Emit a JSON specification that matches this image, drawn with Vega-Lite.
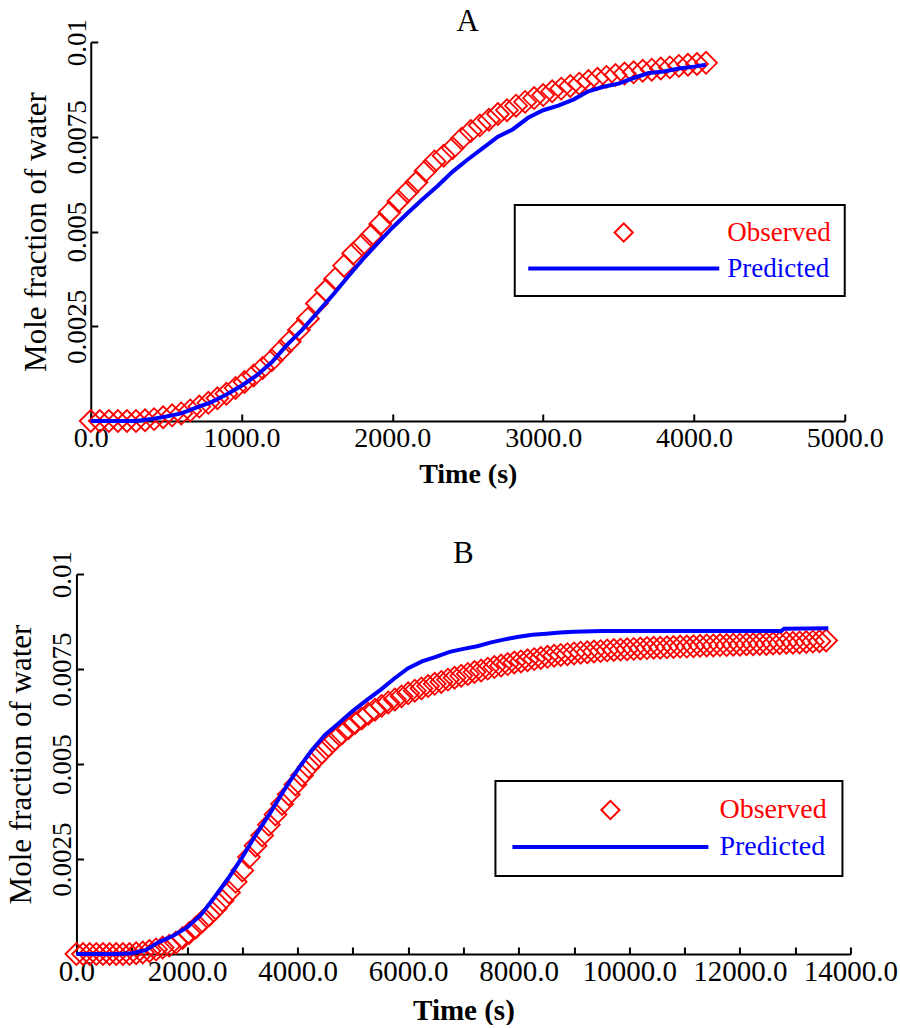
{
  "$schema": "https://vega.github.io/schema/vega-lite/v6.json",
  "padding": {"left": 5, "top": 6, "right": 0, "bottom": 0},
  "background": "white",
  "config": {
    "font": "Liberation Serif",
    "view": {"stroke": null},
    "axis": {"grid": false, "domainColor": "black", "tickColor": "black", "labelColor": "black", "titleColor": "black", "labelFont": "Liberation Serif", "titleFont": "Liberation Serif", "domainWidth": 2, "tickWidth": 2, "tickSize": -7, "labelFlush": false, "labelOverlap": false},
    "title": {"font": "Liberation Serif", "fontWeight": "normal", "color": "black", "anchor": "middle"}
  },
  "center": true,
  "spacing": 50,
  "resolve": {"scale": {"color": "independent"}, "legend": {"color": "independent"}},
  "datasets": {
    "a": [
      {"series":"Observed","time":0,"fraction":0},{"series":"Observed","time":60,"fraction":0},{"series":"Observed","time":120,"fraction":0},{"series":"Observed","time":180,"fraction":0},{"series":"Observed","time":240,"fraction":0},{"series":"Observed","time":300,"fraction":0},{"series":"Observed","time":360,"fraction":0.00002},{"series":"Observed","time":420,"fraction":0.00005},{"series":"Observed","time":480,"fraction":0.0001},{"series":"Observed","time":540,"fraction":0.00015},{"series":"Observed","time":600,"fraction":0.0002},{"series":"Observed","time":660,"fraction":0.00028},{"series":"Observed","time":720,"fraction":0.00038},{"series":"Observed","time":780,"fraction":0.00048},{"series":"Observed","time":840,"fraction":0.0006},{"series":"Observed","time":900,"fraction":0.00072},{"series":"Observed","time":960,"fraction":0.00087},{"series":"Observed","time":1020,"fraction":0.00103},{"series":"Observed","time":1080,"fraction":0.0012},{"series":"Observed","time":1140,"fraction":0.0014},{"series":"Observed","time":1200,"fraction":0.0016},{"series":"Observed","time":1260,"fraction":0.00185},{"series":"Observed","time":1320,"fraction":0.0021},{"series":"Observed","time":1380,"fraction":0.0024},{"series":"Observed","time":1440,"fraction":0.0027},{"series":"Observed","time":1500,"fraction":0.0031},{"series":"Observed","time":1560,"fraction":0.00345},{"series":"Observed","time":1620,"fraction":0.00375},{"series":"Observed","time":1680,"fraction":0.0041},{"series":"Observed","time":1740,"fraction":0.00442},{"series":"Observed","time":1800,"fraction":0.00465},{"series":"Observed","time":1860,"fraction":0.0049},{"series":"Observed","time":1920,"fraction":0.0052},{"series":"Observed","time":1980,"fraction":0.0055},{"series":"Observed","time":2040,"fraction":0.0058},{"series":"Observed","time":2100,"fraction":0.00605},{"series":"Observed","time":2160,"fraction":0.0063},{"series":"Observed","time":2220,"fraction":0.0066},{"series":"Observed","time":2280,"fraction":0.00685},{"series":"Observed","time":2340,"fraction":0.007},{"series":"Observed","time":2400,"fraction":0.0072},{"series":"Observed","time":2460,"fraction":0.00745},{"series":"Observed","time":2520,"fraction":0.00765},{"series":"Observed","time":2580,"fraction":0.0078},{"series":"Observed","time":2640,"fraction":0.00795},{"series":"Observed","time":2700,"fraction":0.0081},{"series":"Observed","time":2760,"fraction":0.0082},{"series":"Observed","time":2820,"fraction":0.00832},{"series":"Observed","time":2880,"fraction":0.00842},{"series":"Observed","time":2940,"fraction":0.00852},{"series":"Observed","time":3000,"fraction":0.0086},{"series":"Observed","time":3060,"fraction":0.0087},{"series":"Observed","time":3120,"fraction":0.00877},{"series":"Observed","time":3180,"fraction":0.00884},{"series":"Observed","time":3240,"fraction":0.0089},{"series":"Observed","time":3300,"fraction":0.00897},{"series":"Observed","time":3360,"fraction":0.00903},{"series":"Observed","time":3420,"fraction":0.00908},{"series":"Observed","time":3480,"fraction":0.00913},{"series":"Observed","time":3540,"fraction":0.00917},{"series":"Observed","time":3600,"fraction":0.0092},{"series":"Observed","time":3660,"fraction":0.00924},{"series":"Observed","time":3720,"fraction":0.00927},{"series":"Observed","time":3780,"fraction":0.0093},{"series":"Observed","time":3840,"fraction":0.00933},{"series":"Observed","time":3900,"fraction":0.00937},{"series":"Observed","time":3960,"fraction":0.0094},{"series":"Observed","time":4020,"fraction":0.00942},{"series":"Observed","time":4080,"fraction":0.00945},
      {"series":"Predicted","time":0,"fraction":0},{"series":"Predicted","time":100,"fraction":0},{"series":"Predicted","time":200,"fraction":0},{"series":"Predicted","time":300,"fraction":0},{"series":"Predicted","time":400,"fraction":0.00005},{"series":"Predicted","time":500,"fraction":0.00012},{"series":"Predicted","time":600,"fraction":0.0002},{"series":"Predicted","time":700,"fraction":0.00035},{"series":"Predicted","time":800,"fraction":0.0005},{"series":"Predicted","time":900,"fraction":0.0007},{"series":"Predicted","time":1000,"fraction":0.00093},{"series":"Predicted","time":1100,"fraction":0.0012},{"series":"Predicted","time":1200,"fraction":0.00155},{"series":"Predicted","time":1300,"fraction":0.002},{"series":"Predicted","time":1400,"fraction":0.0024},{"series":"Predicted","time":1500,"fraction":0.00285},{"series":"Predicted","time":1600,"fraction":0.0033},{"series":"Predicted","time":1700,"fraction":0.00378},{"series":"Predicted","time":1800,"fraction":0.00425},{"series":"Predicted","time":1900,"fraction":0.00468},{"series":"Predicted","time":2000,"fraction":0.0051},{"series":"Predicted","time":2100,"fraction":0.00548},{"series":"Predicted","time":2200,"fraction":0.00585},{"series":"Predicted","time":2300,"fraction":0.0062},{"series":"Predicted","time":2400,"fraction":0.00658},{"series":"Predicted","time":2500,"fraction":0.0069},{"series":"Predicted","time":2600,"fraction":0.0072},{"series":"Predicted","time":2700,"fraction":0.0075},{"series":"Predicted","time":2800,"fraction":0.0077},{"series":"Predicted","time":2900,"fraction":0.008},{"series":"Predicted","time":3000,"fraction":0.0082},{"series":"Predicted","time":3100,"fraction":0.00832},{"series":"Predicted","time":3200,"fraction":0.00848},{"series":"Predicted","time":3300,"fraction":0.0087},{"series":"Predicted","time":3400,"fraction":0.00882},{"series":"Predicted","time":3500,"fraction":0.0089},{"series":"Predicted","time":3600,"fraction":0.00905},{"series":"Predicted","time":3700,"fraction":0.00918},{"series":"Predicted","time":3800,"fraction":0.00922},{"series":"Predicted","time":3900,"fraction":0.0093},{"series":"Predicted","time":4000,"fraction":0.00935},{"series":"Predicted","time":4080,"fraction":0.0094}
    ],
    "b": [
      {"series":"Observed","time":0,"fraction":0},{"series":"Observed","time":120,"fraction":0},{"series":"Observed","time":240,"fraction":0},{"series":"Observed","time":360,"fraction":0},{"series":"Observed","time":480,"fraction":0},{"series":"Observed","time":600,"fraction":0},{"series":"Observed","time":720,"fraction":0},{"series":"Observed","time":840,"fraction":0},{"series":"Observed","time":960,"fraction":0},{"series":"Observed","time":1080,"fraction":0.00002},{"series":"Observed","time":1200,"fraction":0.00004},{"series":"Observed","time":1320,"fraction":0.00008},{"series":"Observed","time":1440,"fraction":0.00012},{"series":"Observed","time":1560,"fraction":0.00017},{"series":"Observed","time":1680,"fraction":0.00022},{"series":"Observed","time":1800,"fraction":0.0003},{"series":"Observed","time":1920,"fraction":0.00042},{"series":"Observed","time":2040,"fraction":0.00055},{"series":"Observed","time":2160,"fraction":0.0007},{"series":"Observed","time":2280,"fraction":0.00086},{"series":"Observed","time":2400,"fraction":0.00102},{"series":"Observed","time":2520,"fraction":0.0012},{"series":"Observed","time":2640,"fraction":0.0014},{"series":"Observed","time":2760,"fraction":0.00162},{"series":"Observed","time":2880,"fraction":0.0019},{"series":"Observed","time":3000,"fraction":0.0022},{"series":"Observed","time":3120,"fraction":0.00255},{"series":"Observed","time":3240,"fraction":0.00285},{"series":"Observed","time":3360,"fraction":0.00312},{"series":"Observed","time":3480,"fraction":0.0034},{"series":"Observed","time":3600,"fraction":0.00367},{"series":"Observed","time":3720,"fraction":0.00395},{"series":"Observed","time":3840,"fraction":0.0042},{"series":"Observed","time":3960,"fraction":0.00446},{"series":"Observed","time":4080,"fraction":0.0047},{"series":"Observed","time":4200,"fraction":0.00492},{"series":"Observed","time":4320,"fraction":0.00512},{"series":"Observed","time":4440,"fraction":0.0053},{"series":"Observed","time":4560,"fraction":0.00548},{"series":"Observed","time":4680,"fraction":0.00565},{"series":"Observed","time":4800,"fraction":0.0058},{"series":"Observed","time":4920,"fraction":0.00594},{"series":"Observed","time":5040,"fraction":0.00608},{"series":"Observed","time":5160,"fraction":0.0062},{"series":"Observed","time":5280,"fraction":0.00632},{"series":"Observed","time":5400,"fraction":0.00643},{"series":"Observed","time":5520,"fraction":0.00653},{"series":"Observed","time":5640,"fraction":0.00662},{"series":"Observed","time":5760,"fraction":0.0067},{"series":"Observed","time":5880,"fraction":0.00678},{"series":"Observed","time":6000,"fraction":0.00686},{"series":"Observed","time":6120,"fraction":0.00693},{"series":"Observed","time":6240,"fraction":0.00699},{"series":"Observed","time":6360,"fraction":0.00705},{"series":"Observed","time":6480,"fraction":0.00711},{"series":"Observed","time":6600,"fraction":0.00716},{"series":"Observed","time":6720,"fraction":0.00722},{"series":"Observed","time":6840,"fraction":0.00727},{"series":"Observed","time":6960,"fraction":0.00732},{"series":"Observed","time":7080,"fraction":0.00737},{"series":"Observed","time":7200,"fraction":0.00742},{"series":"Observed","time":7320,"fraction":0.00746},{"series":"Observed","time":7440,"fraction":0.00751},{"series":"Observed","time":7560,"fraction":0.00755},{"series":"Observed","time":7680,"fraction":0.00759},{"series":"Observed","time":7800,"fraction":0.00763},{"series":"Observed","time":7920,"fraction":0.00767},{"series":"Observed","time":8040,"fraction":0.0077},{"series":"Observed","time":8160,"fraction":0.00773},{"series":"Observed","time":8280,"fraction":0.00776},{"series":"Observed","time":8400,"fraction":0.00779},{"series":"Observed","time":8520,"fraction":0.00782},{"series":"Observed","time":8640,"fraction":0.00785},{"series":"Observed","time":8760,"fraction":0.00787},{"series":"Observed","time":8880,"fraction":0.00789},{"series":"Observed","time":9000,"fraction":0.00791},{"series":"Observed","time":9120,"fraction":0.00793},{"series":"Observed","time":9240,"fraction":0.00794},{"series":"Observed","time":9360,"fraction":0.00796},{"series":"Observed","time":9480,"fraction":0.00797},{"series":"Observed","time":9600,"fraction":0.00799},{"series":"Observed","time":9720,"fraction":0.008},{"series":"Observed","time":9840,"fraction":0.00801},{"series":"Observed","time":9960,"fraction":0.00802},{"series":"Observed","time":10080,"fraction":0.00803},{"series":"Observed","time":10200,"fraction":0.00804},{"series":"Observed","time":10320,"fraction":0.00805},{"series":"Observed","time":10440,"fraction":0.00806},{"series":"Observed","time":10560,"fraction":0.00806},{"series":"Observed","time":10680,"fraction":0.00807},{"series":"Observed","time":10800,"fraction":0.00808},{"series":"Observed","time":10920,"fraction":0.00809},{"series":"Observed","time":11040,"fraction":0.00809},{"series":"Observed","time":11160,"fraction":0.0081},{"series":"Observed","time":11280,"fraction":0.00811},{"series":"Observed","time":11400,"fraction":0.00812},{"series":"Observed","time":11520,"fraction":0.00812},{"series":"Observed","time":11640,"fraction":0.00813},{"series":"Observed","time":11760,"fraction":0.00813},{"series":"Observed","time":11880,"fraction":0.00814},{"series":"Observed","time":12000,"fraction":0.00814},{"series":"Observed","time":12120,"fraction":0.00815},{"series":"Observed","time":12240,"fraction":0.00815},{"series":"Observed","time":12360,"fraction":0.00816},{"series":"Observed","time":12480,"fraction":0.00816},{"series":"Observed","time":12600,"fraction":0.00817},{"series":"Observed","time":12720,"fraction":0.00818},{"series":"Observed","time":12840,"fraction":0.00819},{"series":"Observed","time":12960,"fraction":0.00819},{"series":"Observed","time":13080,"fraction":0.0082},{"series":"Observed","time":13200,"fraction":0.00821},{"series":"Observed","time":13320,"fraction":0.00822},{"series":"Observed","time":13440,"fraction":0.00823},{"series":"Observed","time":13560,"fraction":0.00825},
      {"series":"Predicted","time":0,"fraction":0},{"series":"Predicted","time":250,"fraction":0},{"series":"Predicted","time":500,"fraction":0},{"series":"Predicted","time":750,"fraction":0},{"series":"Predicted","time":1000,"fraction":0.00002},{"series":"Predicted","time":1250,"fraction":0.0001},{"series":"Predicted","time":1500,"fraction":0.00032},{"series":"Predicted","time":1750,"fraction":0.00048},{"series":"Predicted","time":2000,"fraction":0.0007},{"series":"Predicted","time":2250,"fraction":0.00103},{"series":"Predicted","time":2500,"fraction":0.0015},{"series":"Predicted","time":2750,"fraction":0.002},{"series":"Predicted","time":3000,"fraction":0.00255},{"series":"Predicted","time":3250,"fraction":0.00315},{"series":"Predicted","time":3500,"fraction":0.0037},{"series":"Predicted","time":3750,"fraction":0.0043},{"series":"Predicted","time":4000,"fraction":0.00485},{"series":"Predicted","time":4250,"fraction":0.00535},{"series":"Predicted","time":4500,"fraction":0.00577},{"series":"Predicted","time":4750,"fraction":0.00608},{"series":"Predicted","time":5000,"fraction":0.0064},{"series":"Predicted","time":5250,"fraction":0.00668},{"series":"Predicted","time":5500,"fraction":0.00695},{"series":"Predicted","time":5750,"fraction":0.00725},{"series":"Predicted","time":6000,"fraction":0.00752},{"series":"Predicted","time":6250,"fraction":0.0077},{"series":"Predicted","time":6500,"fraction":0.00782},{"series":"Predicted","time":6750,"fraction":0.00795},{"series":"Predicted","time":7000,"fraction":0.00803},{"series":"Predicted","time":7250,"fraction":0.0081},{"series":"Predicted","time":7500,"fraction":0.0082},{"series":"Predicted","time":7750,"fraction":0.00828},{"series":"Predicted","time":8000,"fraction":0.00835},{"series":"Predicted","time":8250,"fraction":0.0084},{"series":"Predicted","time":8500,"fraction":0.00843},{"series":"Predicted","time":8750,"fraction":0.00846},{"series":"Predicted","time":9000,"fraction":0.00848},{"series":"Predicted","time":9500,"fraction":0.0085},{"series":"Predicted","time":10000,"fraction":0.0085},{"series":"Predicted","time":11000,"fraction":0.0085},{"series":"Predicted","time":12000,"fraction":0.0085},{"series":"Predicted","time":12750,"fraction":0.0085},{"series":"Predicted","time":12800,"fraction":0.00856},{"series":"Predicted","time":13600,"fraction":0.00857}
    ]
  },
  "vconcat": [
    {
      "width": 754,
      "height": 379,
      "title": {"text": "A", "fontSize": 31, "offset": -20},
      "data": {"name": "a"},
      "encoding": {
        "x": {"field": "time", "type": "quantitative", "scale": {"domain": [0, 5000], "nice": false},
          "axis": {"title": "Time (s)", "values": [0,1000,2000,3000,4000,5000], "format": ".1f", "labelFontSize": 28, "titleFontSize": 28, "titleFontWeight": "bold", "labelPadding": 10, "titlePadding": 8}},
        "y": {"field": "fraction", "type": "quantitative", "scale": {"domain": [0, 0.01], "nice": false, "zero": true},
          "axis": {"title": "Mole fraction of water", "values": [0.0025,0.005,0.0075,0.01], "format": ".5~f", "labelAngle": 270, "labelAlign": "center", "labelBaseline": "bottom", "labelFontSize": 27, "titleFontSize": 31, "titleFontWeight": "normal", "labelPadding": 6, "titlePadding": 11}},
        "color": {"field": "series", "type": "nominal", "scale": {"domain": ["Observed", "Predicted"], "range": ["#ff0000", "#0000ff"]},
          "legend": {"title": null, "orient": "none", "legendX": 424, "legendY": 163, "symbolSize": 36481, "labelFontSize": 27, "labelFont": "Liberation Serif", "padding": 14, "rowPadding": 8, "labelOffset": 90, "symbolOffset": 81.5, "strokeColor": "black", "fillColor": "white",
            "encode": {
              "symbols": {"update": {"shape": {"signal": "datum.value === 'Observed' ? 'diamond' : 'stroke'"}, "size": {"signal": "datum.value === 'Observed' ? 330 : 36481"}, "strokeWidth": {"signal": "datum.value === 'Observed' ? 2 : 4"}, "fill": {"value": "transparent"}, "stroke": {"signal": "datum.value === 'Observed' ? '#ff0000' : '#0000ff'"}, "opacity": {"value": 1}}},
              "labels": {"update": {"fill": {"signal": "datum.value === 'Observed' ? '#ff0000' : '#0000ff'"}}},
              "legend": {"update": {"strokeWidth": {"value": 2}}}
            }}}
      },
      "layer": [
        {"transform": [{"filter": "datum.series === 'Observed'"}], "mark": {"type": "point", "shape": "diamond", "filled": false, "size": 480, "strokeWidth": 1.8, "opacity": 1}},
        {"transform": [{"filter": "datum.series === 'Predicted'"}], "mark": {"type": "line", "strokeWidth": 4}}
      ]
    },
    {
      "width": 774,
      "height": 380,
      "title": {"text": "B", "fontSize": 31, "offset": -20},
      "data": {"name": "b"},
      "encoding": {
        "x": {"field": "time", "type": "quantitative", "scale": {"domain": [0, 14000], "nice": false},
          "axis": {"title": "Time (s)", "values": [0,1000,2000,3000,4000,5000,6000,7000,8000,9000,10000,11000,12000,13000,14000], "labelExpr": "datum.value % 2000 === 0 ? format(datum.value, '.1f') : ''", "labelFontSize": 29, "titleFontSize": 29, "titleFontWeight": "bold", "labelPadding": 10, "titlePadding": 10}},
        "y": {"field": "fraction", "type": "quantitative", "scale": {"domain": [0, 0.01], "nice": false, "zero": true},
          "axis": {"title": "Mole fraction of water", "values": [0.0025,0.005,0.0075,0.01], "format": ".5~f", "labelAngle": 270, "labelAlign": "center", "labelBaseline": "bottom", "labelFontSize": 27, "titleFontSize": 31, "titleFontWeight": "normal", "labelPadding": 7, "titlePadding": 11}},
        "color": {"field": "series", "type": "nominal", "scale": {"domain": ["Observed", "Predicted"], "range": ["#ff0000", "#0000ff"]},
          "legend": {"title": null, "orient": "none", "legendX": 419, "legendY": 207, "symbolSize": 38416, "labelFontSize": 28, "labelFont": "Liberation Serif", "padding": 15, "rowPadding": 9, "labelOffset": 95, "symbolOffset": 86, "strokeColor": "black", "fillColor": "white",
            "encode": {
              "symbols": {"update": {"shape": {"signal": "datum.value === 'Observed' ? 'diamond' : 'stroke'"}, "size": {"signal": "datum.value === 'Observed' ? 330 : 38416"}, "strokeWidth": {"signal": "datum.value === 'Observed' ? 2 : 4"}, "fill": {"value": "transparent"}, "stroke": {"signal": "datum.value === 'Observed' ? '#ff0000' : '#0000ff'"}, "opacity": {"value": 1}}},
              "labels": {"update": {"fill": {"signal": "datum.value === 'Observed' ? '#ff0000' : '#0000ff'"}}},
              "legend": {"update": {"strokeWidth": {"value": 2}}}
            }}}
      },
      "layer": [
        {"transform": [{"filter": "datum.series === 'Observed'"}], "mark": {"type": "point", "shape": "diamond", "filled": false, "size": 480, "strokeWidth": 1.8, "opacity": 1}},
        {"transform": [{"filter": "datum.series === 'Predicted'"}], "mark": {"type": "line", "strokeWidth": 4}}
      ]
    }
  ]
}
